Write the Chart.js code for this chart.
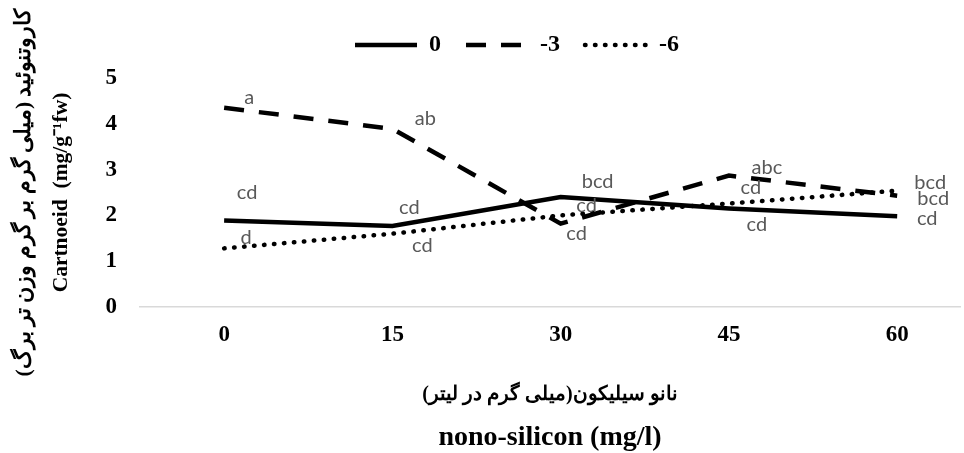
<!DOCTYPE html>
<html>
<head>
<meta charset="utf-8">
<script src="https://cdn.jsdelivr.net/npm/chart.js@4.4.1/dist/chart.umd.min.js"></script>
<style>
  html, body { margin: 0; padding: 0; background: #fff; }
  #wrap { width: 964px; height: 453px; }
</style>
</head>
<body>
<div id="wrap"><canvas id="chart"></canvas></div>
<script>
// nano-silicon doses (mg/l) and carotenoid values per series
const doses = [0, 15, 30, 45, 60];
const seriesNames = ['0', '-3', '-6'];
const solidValues = [1.89, 1.77, 2.40, 2.15, 1.98];
const dashedValues = [4.35, 3.89, 1.82, 2.87, 2.43];
const dottedValues = [1.28, 1.60, 2.00, 2.26, 2.54];
const solidLetters = ['cd', 'cd', 'bcd', 'cd', 'cd'];
const dashedLetters = ['a', 'ab', 'cd', 'abc', 'bcd'];
const dottedLetters = ['d', 'cd', 'cd', 'cd', 'bcd'];
const yTicks = [0, 1, 2, 3, 4, 5];
const yTitle = ['\u200Fکاروتنوئید (میلی گرم بر گرم وزن تر برگ)\u200F', 'Cartnoeid  (mg/g\u207B\u00B9fw)'];
const xTitleFa = '\u200Fنانو سیلیکون(میلی گرم در لیتر)\u200F';
const xTitleEn = 'nono-silicon (mg/l)';

const serif = "'Liberation Serif', 'Times New Roman', serif";

// where each letter sits relative to its point
const letterOffsets = [
    [[23, -28], [17, -18], [37, -16], [28, 16], [30, 2]],
    [[25, -10], [33, -10], [16, 10], [38, -8], [36, 3]],
    [[22, -11], [30, 12], [26, -10], [22, -16], [33, -8]]
];

const letterPlugin = {
    id: 'letters',
    afterDatasetsDraw(chart) {
        const ctx = chart.ctx;
        ctx.save();
        ctx.font = '20px Lato';
        ctx.fillStyle = '#595959';
        ctx.textAlign = 'center';
        ctx.textBaseline = 'middle';
        chart.data.datasets.forEach((ds, i) => {
            chart.getDatasetMeta(i).data.forEach((pt, j) => {
                const [dx, dy] = letterOffsets[i][j];
                ctx.fillText(ds.letters[j], pt.x + dx, pt.y + dy);
            });
        });
        ctx.restore();
    }
};

const toPoints = (vals) => doses.map((x, i) => ({ x: x, y: vals[i] }));

new Chart(document.getElementById('chart'), {
    type: 'line',
    data: {
        datasets: [
            {
                label: seriesNames[0],
                data: toPoints(solidValues),
                letters: solidLetters,
                borderColor: '#000',
                backgroundColor: '#000',
                borderWidth: 4.5,
            },
            {
                label: seriesNames[1],
                data: toPoints(dashedValues),
                letters: dashedLetters,
                borderColor: '#000',
                backgroundColor: '#000',
                borderWidth: 4.5,
                borderDash: [20, 15],
            },
            {
                label: seriesNames[2],
                data: toPoints(dottedValues),
                letters: dottedLetters,
                borderColor: '#000',
                backgroundColor: '#000',
                borderWidth: 4.5,
                borderDash: [0.5, 9.5],
                borderCapStyle: 'round',
            },
        ],
    },
    options: {
        responsive: true,
        maintainAspectRatio: false,
        animation: false,
        events: [],
        layout: { padding: { top: 8, left: 74, right: 4, bottom: 0 } },
        elements: {
            line: { tension: 0 },
            point: { radius: 0 },
        },
        plugins: {
            tooltip: { enabled: false },
            legend: {
                position: 'top',
                weight: 2000,
                labels: {
                    usePointStyle: true,
                    pointStyle: 'line',
                    pointStyleWidth: 62,
                    padding: 25,
                    color: '#000',
                    font: { family: serif, size: 24, weight: 'bold' },
                    generateLabels: (chart) => {
                        const items = Chart.defaults.plugins.legend.labels.generateLabels(chart);
                        return items.map((item, i) => {
                            const ds = chart.data.datasets[i];
                            item.lineDash = ds.borderDash || [];
                            item.lineCap = ds.borderCapStyle || 'butt';
                            item.lineWidth = ds.borderWidth;
                            item.strokeStyle = '#000';
                            return item;
                        });
                    },
                },
            },
            subtitle: {
                display: true,
                text: ' ',
                padding: 0,
                font: { size: 10, lineHeight: '11px' },
            },
            title: {
                display: true,
                position: 'bottom',
                fullSize: false,
                text: xTitleEn,
                color: '#000',
                font: { family: serif, size: 28, weight: 'bold', lineHeight: '30px' },
                padding: 0,
            },
        },
        scales: {
            x: {
                type: 'linear',
                min: -7.5,
                max: 65.6,
                afterBuildTicks: (s) => { s.ticks = doses.map(v => ({ value: v })); },
                afterFit: (s) => { s.height = 116; },
                grid: { display: false, drawTicks: false },
                border: { display: true, color: '#d9d9d9', width: 1.5 },
                ticks: { color: '#000', padding: 14, font: { family: serif, size: 23, weight: 'bold' } },
                title: {
                    display: true,
                    text: xTitleFa,
                    color: '#000',
                    font: { family: serif, size: 20, weight: 'bold', lineHeight: '30px' },
                    padding: { top: 0, bottom: 13 },
                },
            },
            y: {
                min: 0,
                max: 5,
                afterBuildTicks: (s) => { s.ticks = yTicks.map(v => ({ value: v })); },
                afterFit: (s) => { s.width = 66; },
                grid: { display: false, drawTicks: false },
                border: { display: false },
                ticks: { color: '#000', padding: 23, font: { family: serif, size: 23, weight: 'bold' } },
                title: {
                    display: true,
                    text: yTitle,
                    color: '#000',
                    font: { family: serif, size: 21.5, weight: 'bold', lineHeight: '37px' },
                    padding: { top: -68, bottom: 0 },
                },
            },
        },
    },
    plugins: [letterPlugin],
});
</script>
</body>
</html>
